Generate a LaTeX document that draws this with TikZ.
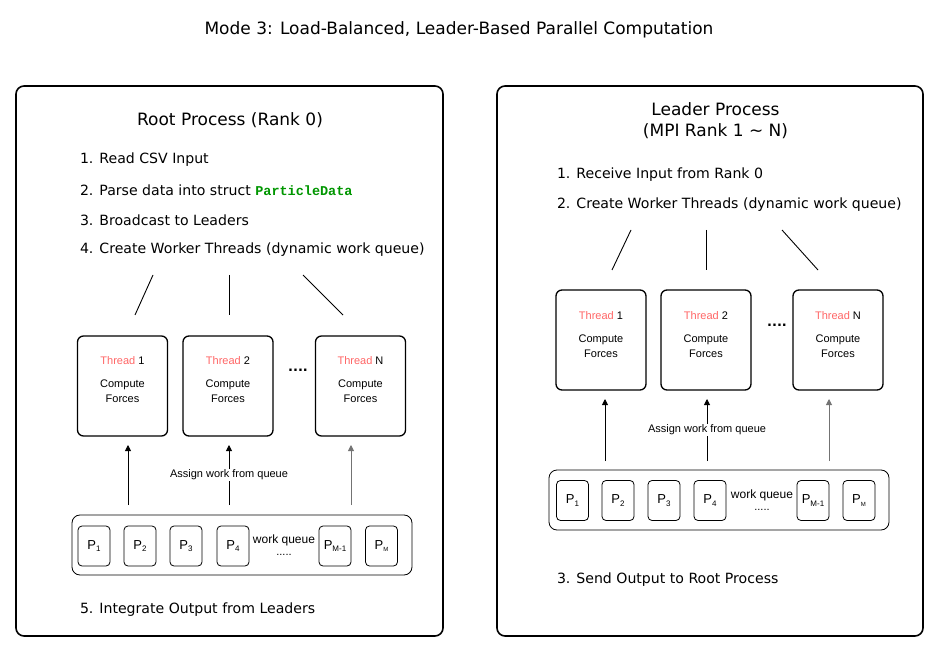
\documentclass[tikz,border=0pt]{standalone}
\usepackage{fontspec}
\setmainfont{DejaVu Sans}
\newfontfamily\arialfont{Liberation Sans}
\newfontfamily\courfont{Liberation Mono}
\usetikzlibrary{arrows.meta}

\newcommand{\psub}[1]{P\raisebox{-0.35ex}{\fontsize{8}{8}\selectfont #1}}

\begin{document}
\begin{tikzpicture}[
    x=1pt, y=-1pt,
    every node/.style={inner sep=0pt, outer sep=0pt},
    procbox/.style={draw, line width=1.6pt, rounded corners=8pt},
    threadbox/.style={draw, line width=1.3pt, rounded corners=6pt,
        minimum width=90pt, minimum height=100pt},
    queuebox/.style={draw, line width=0.8pt, rounded corners=8pt,
        minimum width=340pt, minimum height=60pt},
    pbox/.style={draw, line width=0.8pt, rounded corners=4pt,
        minimum width=32pt, minimum height=40pt, font=\arialfont\fontsize{13}{15}\selectfont},
    threadtxt/.style={anchor=north, align=center, font=\arialfont\fontsize{11}{15}\selectfont},
    steptxt/.style={anchor=west, font=\fontsize{14.1}{17}\selectfont},
    headtxt/.style={align=center, font=\fontsize{17}{21}\selectfont},
    smalltxt/.style={font=\arialfont\fontsize{11}{13}\selectfont},
    feed/.style={-{Triangle[length=6pt,width=6pt]}, line width=0.9pt, shorten >=9pt},
    fork/.style={line width=0.9pt}
]
\colorlet{thr}{red!60!white}
\definecolor{code}{RGB}{0,150,0}

\useasboundingbox (0,0) rectangle (940,652);

\node[font=\fontsize{17}{20}\selectfont] (title) at (459,30) {Mode 3: Load-Balanced, Leader-Based Parallel Computation};

% root process
\draw[procbox] (16,86) rectangle (443,636);
\node[headtxt] (root) at (230,120) {Root Process (Rank 0)};
\node[steptxt] (r1) at (80,160) {1. Read CSV Input};
\node[steptxt] (r2) at (80,190) {2. Parse data into struct {\courfont\bfseries\fontsize{13.5}{17}\selectfont\color{code}ParticleData}};
\node[steptxt] (r3) at (80,220) {3. Broadcast to Leaders};
\node[steptxt] (r4) at (80,250) {4. Create Worker Threads (dynamic work queue)};
\node[steptxt] (r5) at (80,610) {5. Integrate Output from Leaders};

\coordinate (rfa) at (153,275);
\coordinate (rfb) at (229,275);
\coordinate (rfc) at (303,275);
\draw[fork] (rfa) -- (135,315);
\draw[fork] (rfb) -- (229,315);
\draw[fork] (rfc) -- (343,315);

\node[threadbox] (rt1) at (122.5,386) {};
\node[threadbox] (rt2) at (228,386) {};
\node[threadbox] (rtn) at (360.5,386) {};
\node[threadtxt] at ([yshift=-21pt]rt1.north) {\textcolor{thr}{Thread} 1\\[8pt]Compute\\Forces};
\node[threadtxt] at ([yshift=-21pt]rt2.north) {\textcolor{thr}{Thread} 2\\[8pt]Compute\\Forces};
\node[threadtxt] at ([yshift=-21pt]rtn.north) {\textcolor{thr}{Thread} N\\[8pt]Compute\\Forces};
\node[font=\bfseries\fontsize{13}{13}\selectfont] (rdots) at (298,370) {....};

\node[queuebox] (rq) at (242,545) {};
\node[pbox] (rp1) at (94,546) {\psub{1}};
\node[pbox] (rp2) at (140,546) {\psub{2}};
\node[pbox] (rp3) at (186,546) {\psub{3}};
\node[pbox] (rp4) at (233,546) {\psub{4}};
\node[pbox] (rpm1) at (335,546) {\psub{M-1}};
\node[pbox] (rpm) at (381.5,546) {P\raisebox{-0.35ex}{\fontsize{6}{6}\selectfont M}};
\node[smalltxt, font=\arialfont\fontsize{12}{14}\selectfont] (rwq) at (284,540) {work queue};
\node[smalltxt] at (284,555) {.....};

\coordinate (ra1) at (128,505);
\coordinate (ra2) at (229,505);
\coordinate (ran) at (351,505);
\draw[feed] (ra1) -- (ra1 |- rt1.south);
\draw[feed] (ra2) -- (ra2 |- rt2.south);
\draw[feed, black!55] (ran) -- (ran |- rtn.south);
\node[smalltxt, fill=white, inner sep=1pt] (rassign) at (229,475) {Assign work from queue};

% leader process
\draw[procbox] (497,86) rectangle (923,636);
\node[headtxt] (leader) at (715.5,121) {Leader Process\\(MPI Rank 1 \char"007E{} N)};
\node[steptxt] (l1) at (557,175) {1. Receive Input from Rank 0};
\node[steptxt] (l2) at (557,205) {2. Create Worker Threads (dynamic work queue)};
\node[steptxt] (l3) at (557,580) {3. Send Output to Root Process};

\coordinate (lfa) at (631,230);
\coordinate (lfb) at (706,230);
\coordinate (lfc) at (782,230);
\draw[fork] (lfa) -- (612,270);
\draw[fork] (lfb) -- (706,270);
\draw[fork] (lfc) -- (818,270);

\node[threadbox] (lt1) at (601,340) {};
\node[threadbox] (lt2) at (706,340) {};
\node[threadbox] (ltn) at (838,340) {};
\node[threadtxt] at ([yshift=-22pt]lt1.north) {\textcolor{thr}{Thread} 1\\[8pt]Compute\\Forces};
\node[threadtxt] at ([yshift=-22pt]lt2.north) {\textcolor{thr}{Thread} 2\\[8pt]Compute\\Forces};
\node[threadtxt] at ([yshift=-22pt]ltn.north) {\textcolor{thr}{Thread} N\\[8pt]Compute\\Forces};
\node[font=\bfseries\fontsize{13}{13}\selectfont] (ldots) at (777,325) {....};

\node[queuebox] (lq) at (719,500) {};
\node[pbox] (lp1) at (572.5,500.5) {\psub{1}};
\node[pbox] (lp2) at (618,500.5) {\psub{2}};
\node[pbox] (lp3) at (664,500.5) {\psub{3}};
\node[pbox] (lp4) at (710,500.5) {\psub{4}};
\node[pbox] (lpm1) at (813,500.5) {\psub{M-1}};
\node[pbox] (lpm) at (859,500.5) {P\raisebox{-0.35ex}{\fontsize{6}{6}\selectfont M}};
\node[smalltxt, font=\arialfont\fontsize{12}{14}\selectfont] (lwq) at (762,495) {work queue};
\node[smalltxt] at (762,510) {.....};

\coordinate (la1) at (605,461);
\coordinate (la2) at (707,461);
\coordinate (lan) at (829,461);
\draw[feed] (la1) -- (la1 |- lt1.south);
\draw[feed] (la2) -- (la2 |- lt2.south);
\draw[feed, black!55] (lan) -- (lan |- ltn.south);
\node[smalltxt, fill=white, inner sep=1pt] (lassign) at (707,430) {Assign work from queue};
\end{tikzpicture}
\end{document}
